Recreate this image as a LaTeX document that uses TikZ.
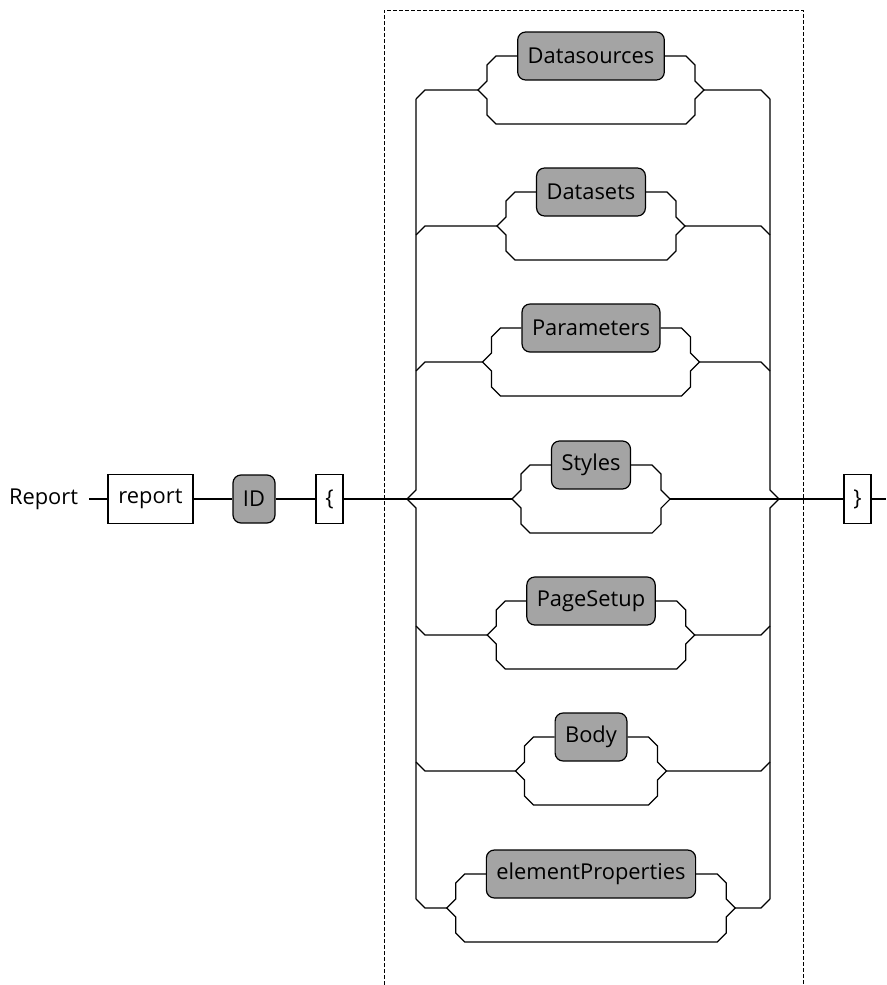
\documentclass[tikz,border=0pt]{standalone}
\usepackage{fontspec}
\setmainfont{Open Sans}
\usetikzlibrary{calc, positioning}
\definecolor{boxgray}{HTML}{A4A4A4}

\begin{document}
\begin{tikzpicture}[x=0.75pt, y=-0.75pt,
  font=\fontsize{16.4}{19}\selectfont,
  term/.style={rectangle, draw, fill=white, line width=0.9pt, minimum height=37pt, inner xsep=3pt},
  elem/.style={rectangle, draw, fill=boxgray, rounded corners=6pt, line width=0.9pt, minimum height=36pt, inner xsep=7.5pt},
  rail/.style={line width=0.9pt},
  group/.style={dash pattern=on 3pt off 1.5pt, line width=0.75pt}
]
  \useasboundingbox (0,0) rectangle (886,985);

  % Group frame
  \draw[group] (384,985) -- (384,10) -- (803,10) -- (803,985);

  % Main line
  \node[anchor=east, inner xsep=8pt] (title) at (89,499) {Report};
  \node[term, minimum width=63.75pt] (report) at (150.5,499) {report};
  \node[elem, minimum width=31.5pt, inner xsep=3pt] (id) at (254,499) {ID};
  \node[term, minimum width=20.25pt] (lbrace) at (329.5,499) {\{};
  \node[term, minimum width=20.25pt] (rbrace) at (857.5,499) {\}};
  \coordinate (lsplit) at (407,499);
  \coordinate (rsplit) at (779,499);
  \coordinate (exit) at (886,499);

  % Optional elements
  \foreach \nm/\txt/\yy/\sg in {ds/Datasources/90/1, dt/Datasets/226/1, pa/Parameters/362/1, st/Styles/499/0, ps/PageSetup/635/-1, bo/Body/771/-1, ep/elementProperties/908/-1}{
    \node[elem] (\nm) at (591,{\yy-34}) {\txt};
    \coordinate (\nm-in) at ($(\nm.west)+(-39,34)$);
    \coordinate (\nm-out) at ($(\nm.east)+(39,34)$);
    \draw[rail] (\nm.west) -- ++(-21,0) -- ++(-9,9) -- ++(0,16) -- (\nm-in)
      -- ++(9,9) -- ++(0,16) -- ++(9,9) -- ($(\nm.east)+(21,68)$)
      -- ++(9,-9) -- ++(0,-16) -- (\nm-out) -- ++(-9,-9) -- ++(0,-16) -- ++(-9,-9) -- (\nm.east);
    \draw[rail] (\nm-in) -- (425,\yy) -- (416,{\yy+9*(\sg)});
    \draw[rail] (\nm-out) -- (761,\yy) -- (770,{\yy+9*(\sg)});
  }

  % Rails
  \draw[rail] ($(lsplit)+(9,-400)$) -- ($(lsplit)+(9,-9)$) -- (lsplit) -- ++(9,9) -- ++(0,391);
  \draw[rail] ($(rsplit)+(-9,-400)$) -- ($(rsplit)+(-9,-9)$) -- (rsplit) -- ++(-9,9) -- ++(0,391);

  % Connectors
  \draw[rail] (title) -- (report);
  \draw[rail] (report) -- (id);
  \draw[rail] (id) -- (lbrace);
  \draw[rail] (lbrace) -- (st-in);
  \draw[rail] (st-out) -- (rbrace);
  \draw[rail] (rbrace) -- (exit);
\end{tikzpicture}
\end{document}
